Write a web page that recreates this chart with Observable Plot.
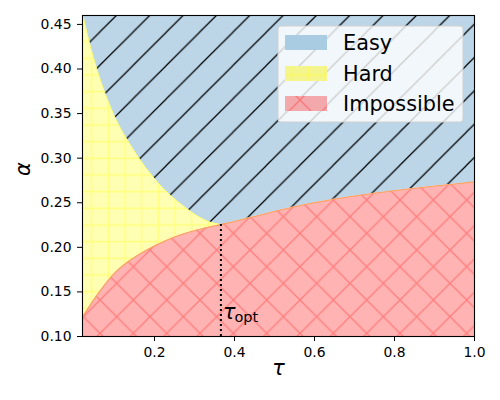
<!DOCTYPE html>
<html><head><meta charset="utf-8">
<script src="https://cdn.jsdelivr.net/npm/d3@7"></script>
<script src="https://cdn.jsdelivr.net/npm/@observablehq/plot@0.6"></script>
<style>
html,body{margin:0;padding:0;background:white;}
#chart{width:500px;height:400px;}
</style></head><body><div id="chart"></div>
<script>
// Upper boundary (Hard / Easy)
const upperTau   = [0.021, 0.041, 0.066, 0.099, 0.145, 0.2075, 0.27, 0.337, 0.366];
const upperAlpha = [0.460, 0.423, 0.386, 0.348, 0.311, 0.273, 0.247, 0.2285, 0.2255];
// Lower boundary (Impossible)
const lowerTau   = [0.02, 0.062, 0.103, 0.145, 0.187, 0.228, 0.27, 0.312, 0.366, 0.395, 0.445, 0.545, 0.645, 0.745, 0.845, 0.945, 1.0];
const lowerAlpha = [0.1217, 0.1498, 0.1722, 0.1873, 0.1985, 0.2075, 0.2146, 0.2200, 0.2255, 0.2285, 0.2340, 0.2450, 0.2536, 0.2603, 0.2660, 0.2708, 0.2734];
const tauOpt = 0.366;
const alphaOpt = 0.2255;
const labelAlpha = 0.12;
const xDomain = [0.02, 1.0];
const yDomain = [0.10, 0.46];
const xTicks = [0.2, 0.4, 0.6, 0.8, 1.0];
const yTicks = [0.10, 0.15, 0.20, 0.25, 0.30, 0.35, 0.40, 0.45];
const regionNames = ["Easy", "Hard", "Impossible"];
const regionColors = ["#bcd6e8", "#ffffb3", "#ffb3b3"];
const legendSwatchColors = ["#a9cce3", "#f5f590", "#f3a8ab"];
const placeholders = ["#000001", "#000002", "#000003"];
const patternIds = ["hatch-easy", "hatch-hard", "hatch-imp"];

const upper = upperTau.map((t, i) => ({tau: t, alpha: upperAlpha[i]}));
const lower = lowerTau.map((t, i) => ({tau: t, alpha: lowerAlpha[i]}));
const easyEdge = upper.concat(lower.filter(d => d.tau > tauOpt));
const curve = "monotone-x";

const plot = Plot.plot({
  width: 500, height: 400,
  marginLeft: 82, marginRight: 26, marginTop: 15, marginBottom: 64,
  style: {fontFamily: "DejaVu Sans", fontSize: "13.9px", color: "black", background: "white", overflow: "visible"},
  x: {domain: xDomain, ticks: xTicks, tickFormat: d3.format(".1f"), tickSize: 5, tickPadding: 5.5, label: null},
  y: {domain: yDomain, ticks: yTicks, tickFormat: d3.format(".2f"), tickSize: 5, tickPadding: 6, label: null},
  marks: [
    Plot.areaY(easyEdge, {x: "tau", y1: "alpha", y2: yDomain[1], fill: regionColors[0], curve}),
    Plot.areaY(easyEdge, {x: "tau", y1: "alpha", y2: yDomain[1], fill: placeholders[0], curve}),
    Plot.areaY(upper, {x: "tau", y1: yDomain[0], y2: "alpha", fill: regionColors[1], curve}),
    Plot.areaY(upper, {x: "tau", y1: yDomain[0], y2: "alpha", fill: placeholders[1], curve}),
    Plot.line(upper, {x: "tau", y: "alpha", stroke: "#ffff70", strokeWidth: 1, curve}),
    Plot.areaY(lower, {x: "tau", y1: yDomain[0], y2: "alpha", fill: regionColors[2], curve}),
    Plot.areaY(lower, {x: "tau", y1: yDomain[0], y2: "alpha", fill: placeholders[2], curve}),
    Plot.line(lower, {x: "tau", y: "alpha", stroke: "#f9a45e", strokeWidth: 1.1, curve}),
    Plot.ruleX([tauOpt], {y1: yDomain[0], y2: alphaOpt, stroke: "black", strokeWidth: 2, strokeDasharray: "2,3"}),
    Plot.text([{tau: tauOpt, alpha: labelAlpha}], {x: "tau", y: "alpha", text: () => "τ", dx: 2, textAnchor: "start", lineAnchor: "bottom", fontSize: 20.8, fontStyle: "italic", fill: "black"}),
    Plot.text([{tau: tauOpt, alpha: labelAlpha}], {x: "tau", y: "alpha", text: () => "opt", dx: 13.5, dy: 3.5, textAnchor: "start", lineAnchor: "bottom", fontSize: 14.5, fill: "black"}),
    Plot.text(["α"], {frameAnchor: "left", dx: -59, rotate: -90, fontSize: 20.8, fontStyle: "italic", fill: "black"}),
    Plot.text(["τ"], {frameAnchor: "bottom", dy: 38, fontSize: 20.8, fontStyle: "italic", fill: "black"}),
    Plot.frame({stroke: "black", strokeWidth: 1.1})
  ]
});
document.getElementById("chart").append(plot);

const svg = d3.select(plot);
const defs = svg.insert("defs", ":first-child");
const T = 100 / 3, G = 50 / 3;
// Easy: "/" hatch
defs.append("pattern").attr("id", patternIds[0]).attr("patternUnits", "userSpaceOnUse")
  .attr("width", T).attr("height", T).attr("x", -0.75).attr("y", -0.75)
  .append("path")
  .attr("d", `M-2,${T + 2}L${T + 2},-2M-2,2L2,-2M${T - 2},${T + 2}L${T + 2},${T - 2}`)
  .attr("stroke", "black").attr("stroke-width", 1.25).attr("fill", "none");
// Hard: "+" grid
defs.append("pattern").attr("id", patternIds[1]).attr("patternUnits", "userSpaceOnUse")
  .attr("width", G).attr("height", G)
  .append("path")
  .attr("d", `M0,${G / 2}H${G}M${G / 2},0V${G}`)
  .attr("stroke", "#ffff00").attr("stroke-opacity", 0.32).attr("stroke-width", 1.3).attr("fill", "none");
// Impossible: "x" hatch
defs.append("pattern").attr("id", patternIds[2]).attr("patternUnits", "userSpaceOnUse")
  .attr("width", T).attr("height", T)
  .append("path")
  .attr("d", `M-2,${T + 2}L${T + 2},-2M-2,2L2,-2M${T - 2},${T + 2}L${T + 2},${T - 2}` +
             `M-2,-2L${T + 2},${T + 2}M${T - 2},-2L${T + 2},2M-2,${T - 2}L2,${T + 2}`)
  .attr("stroke", "#ff0000").attr("stroke-opacity", 0.3).attr("stroke-width", 1.3).attr("fill", "none");

placeholders.forEach((p, i) => {
  svg.selectAll(`[fill="${p}"]`).attr("fill", `url(#${patternIds[i]})`);
});

// Legend (upper right, inside axes)
const lgX = 278, lgY = 26, lgW = 185, lgH = 96;
const lg = svg.append("g").attr("text-anchor", "start");
lg.append("rect").attr("x", lgX).attr("y", lgY).attr("width", lgW).attr("height", lgH).attr("rx", 3)
  .attr("fill", "white").attr("fill-opacity", 0.8).attr("stroke", "#d0d0d0").attr("stroke-width", 1);
const rowTop = [35, 66, 96];
regionNames.forEach((name, i) => {
  lg.append("rect").attr("x", 285).attr("y", rowTop[i]).attr("width", 42).attr("height", 15)
    .attr("fill", legendSwatchColors[i]);
  if (i > 0) {
    lg.append("rect").attr("x", 285).attr("y", rowTop[i]).attr("width", 42).attr("height", 15)
      .attr("fill", `url(#${patternIds[i]})`);
  }
  lg.append("text").attr("x", 343).attr("y", rowTop[i] + 7.5 + 7)
    .attr("text-anchor", "start")
    .attr("font-family", "DejaVu Sans").attr("font-size", "20.8px").attr("fill", "black")
    .text(name);
});
</script></body></html>
